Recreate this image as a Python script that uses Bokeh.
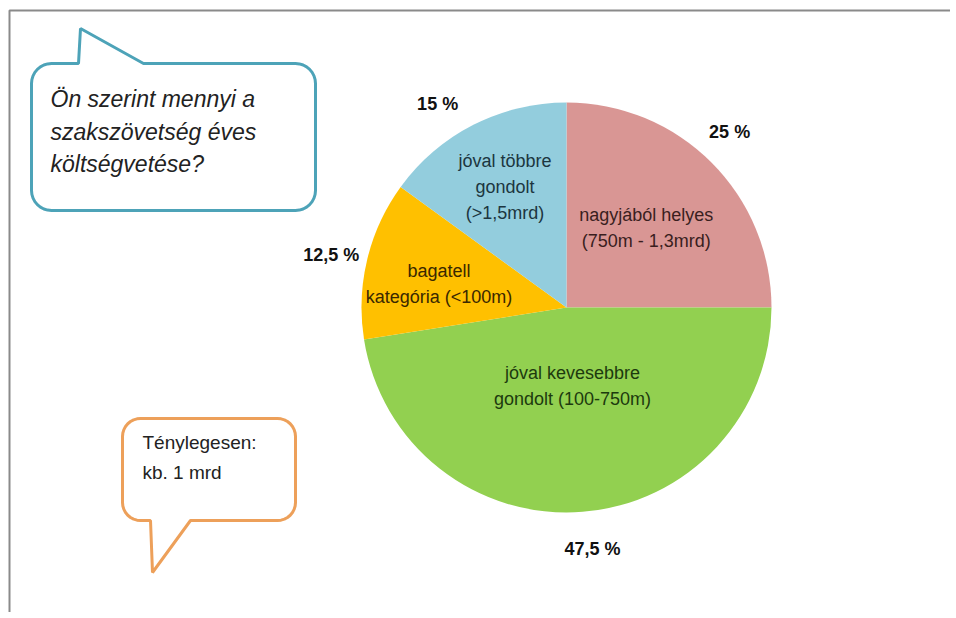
import math
from bokeh.plotting import figure
from bokeh.models import Range1d
from bokeh.core.properties import value
from bokeh.embed import file_html
from bokeh.resources import INLINE

# ---- data ----
categories = ["nagyjából helyes\n(750m - 1,3mrd)",
              "jóval kevesebbre\ngondolt (100-750m)",
              "bagatell\nkategória (<100m)",
              "jóval többre\ngondolt\n(>1,5mrd)"]
shares = [25.0, 47.5, 12.5, 15.0]
pct_labels = ["25 %", "47,5 %", "12,5 %", "15 %"]
colors = ["#D99694", "#92D050", "#FFC000", "#93CDDD"]
label_colors = ["#3a1e1e", "#1d3a0e", "#3a2800", "#1c3640"]
question = "Ön szerint mennyi a\nszakszövetség éves\nköltségvetése?"
answer = "Ténylegesen:\nkb. 1 mrd"

FONT = value("Liberation Sans")
W, H = 950, 612

p = figure(width=W, height=H, output_backend="svg", toolbar_location=None,
           x_range=Range1d(0, W), y_range=Range1d(0, H), min_border=0)
p.axis.visible = False
p.grid.visible = False
p.outline_line_color = None
p.background_fill_color = "white"

def Y(screen_y):
    return H - screen_y

# frame
p.line([9, 9, 960], [Y(640), Y(10), Y(10)], line_color="#8a8a8a", line_width=2)

# pie
cx, cy, R = 566, Y(307), 205
total = sum(shares)
starts, ends, mids = [], [], []
cum = 0.0
for s in shares:
    a0 = math.pi / 2 - 2 * math.pi * cum / total
    cum += s
    a1 = math.pi / 2 - 2 * math.pi * cum / total
    starts.append(a0); ends.append(a1); mids.append((a0 + a1) / 2)

p.wedge(x=[cx] * len(shares), y=[cy] * len(shares), radius=R,
        start_angle=starts, end_angle=ends, direction="clock",
        fill_color=colors, line_color=None)

# inside labels (layout: radius fraction and small vertical nudge)
inner_r = [0.55, 0.37, 0.64, 0.66]
inner_dy = [0, -3, -7, 0]
for lab, m, rr, dy, col in zip(categories, mids, inner_r, inner_dy, label_colors):
    p.text(x=[cx + R * rr * math.cos(m)], y=[cy + R * rr * math.sin(m) + dy], text=[lab],
           text_font=FONT, text_font_size="18px", text_color=col,
           text_align="center", text_baseline="middle", text_line_height=1.3)

# outside percentage labels (layout nudges)
pct_dx = [-8, 7, 0, -19]
pct_dy = [4, 0, -4, -12]
for lab, m, dx, dy in zip(pct_labels, mids, pct_dx, pct_dy):
    p.text(x=[cx + 242 * math.cos(m) + dx], y=[cy + 242 * math.sin(m) + dy], text=[lab],
           text_font=FONT, text_font_size="18px", text_font_style="bold",
           text_color="#111111", text_align="center", text_baseline="middle")

# callout bubbles
def bubble(x0, x1, y0, y1, r, tail, tail_on_top):
    pts = []
    def arc(cx_, cy_, a0, a1):
        for k in range(9):
            a = math.radians(a0 + (a1 - a0) * k / 8)
            pts.append((cx_ + r * math.cos(a), cy_ + r * math.sin(a)))
    arc(x0 + r, y0 + r, 180, 270)
    if tail_on_top:
        tl, tip, tr = tail
        pts.extend([(tl, y0), tip, (tr, y0)])
    arc(x1 - r, y0 + r, 270, 360)
    arc(x1 - r, y1 - r, 0, 90)
    if not tail_on_top:
        tl, tip, tr = tail
        pts.extend([(tr, y1), tip, (tl, y1)])
    arc(x0 + r, y1 - r, 90, 180)
    xs = [q[0] for q in pts]
    ys = [Y(q[1]) for q in pts]
    return xs, ys

xs, ys = bubble(31, 315, 63, 210, 20, (78, (80, 28), 143), True)
p.patch(xs, ys, fill_color="white", line_color="#4DA3B8", line_width=3)
p.text(x=[50], y=[Y(131)], text=[question], text_font=FONT, text_font_size="23px",
       text_font_style="italic", text_color="#222222", text_align="left",
       text_baseline="middle", text_line_height=1.25)

xs, ys = bubble(122, 295, 418, 520, 18, (150, (152, 572), 190), False)
p.patch(xs, ys, fill_color="white", line_color="#EDA05A", line_width=3)
p.text(x=[142], y=[Y(457)], text=[answer], text_font=FONT, text_font_size="19px",
       text_color="#222222", text_align="left", text_baseline="middle",
       text_line_height=1.45)

open("out.html", "w").write(file_html(p, INLINE))
